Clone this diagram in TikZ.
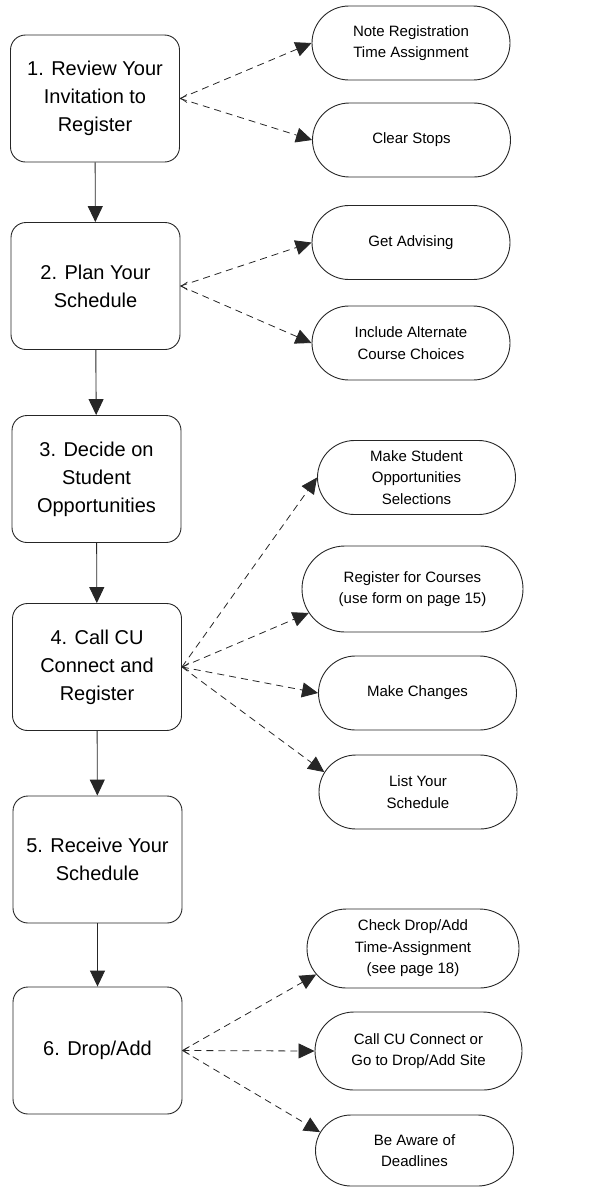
\documentclass[tikz,border=0pt]{standalone}
\usepackage{fontspec}
\setmainfont{Liberation Sans}
\usetikzlibrary{shapes.misc,arrows.meta}
\begin{document}
\begin{tikzpicture}[x=1pt,y=-1pt,
  stepbox/.style={draw=black!85, line width=0.9pt, rectangle, rounded corners=15pt,
    minimum width=169pt, minimum height=127pt, inner sep=0pt, align=center,
    font=\fontsize{20}{28}\selectfont},
  pill/.style={draw=black!85, line width=0.9pt, rounded rectangle, inner sep=0pt,
    minimum width=198pt, minimum height=74pt, align=center,
    font=\fontsize{15}{21.5}\selectfont},
  flow/.style={draw=black!85, line width=0.9pt, -{Triangle[length=16pt,width=15pt]}},
  sub/.style={draw=black!85, line width=0.8pt, dash pattern=on 7pt off 5pt,
    -{Triangle[length=16pt,width=15pt]}},
  tailbarb/.style={draw=black!85, line width=0.7pt}
]
\useasboundingbox (0,0) rectangle (591,1187);
% main steps
\node[stepbox] (b1) at (95,98.5) {1. Review Your\\Invitation to\\Register};
\node[stepbox] (b2) at (95.5,286) {2. Plan Your\\Schedule};
\node[stepbox] (b3) at (96.5,479) {3. Decide on\\Student\\Opportunities};
\node[stepbox] (b4) at (97,667) {4. Call CU\\Connect and\\Register};
\node[stepbox] (b5) at (97.5,859.5) {5. Receive Your\\Schedule};
\node[stepbox] (b6) at (97.5,1050.5) {6. Drop/Add};
% side tasks
\node[pill] (r1) at (411,43) {Note Registration\\Time Assignment};
\node[pill] (r2) at (411.5,140) {Clear Stops};
\node[pill] (r3) at (411,242.5) {Get Advising};
\node[pill] (r4) at (411,343) {Include Alternate\\Course Choices};
\node[pill] (r5) at (416.5,477.5) {Make Student\\Opportunities\\Selections};
\node[pill, minimum width=221pt, minimum height=86pt] (r6) at (412.5,589) {Register for Courses\\(use form on page 15)};
\node[pill] (r7) at (417.5,693) {Make Changes};
\node[pill] (r8) at (418,792) {List Your\\Schedule};
\node[pill, minimum width=212pt, minimum height=79pt] (r9) at (413,948.5) {Check Drop/Add\\Time-Assignment\\(see page 18)};
\node[pill, minimum width=207pt, minimum height=78pt] (r10) at (418.5,1051) {Call CU Connect or\\Go to Drop/Add Site};
\node[pill, minimum height=71pt] (r11) at (414.5,1150.5) {Be Aware of\\Deadlines};
% main flow
\draw[flow] (b1) -- (b2);
\draw[flow] (b2) -- (b3);
\draw[flow] (b3) -- (b4);
\draw[flow] (b4) -- (b5);
\draw[flow] (b5) -- (b6);
% side arrows
\draw[sub] (b1.east) -- (r1.west);
\draw[sub] (b1.east) -- (r2.west);
\draw[sub] (b2.east) -- (r3.west);
\draw[sub] (b2.east) -- (r4.west);
\draw[sub] (b4.east) -- (r5.west);
\draw[sub] (b4.east) -- (r6.193);
\draw[sub] (b4.east) -- (r7.west);
\draw[sub] (b4.east) -- (r8.168);
\draw[sub] (b6.east) -- (r9.195);
\draw[sub] (b6.east) -- (r10.west);
\draw[sub] (b6.east) -- (r11.169);
% small open tips at the sources
\foreach \b in {b1,b2,b4,b6}
  \draw[tailbarb] ([xshift=7pt,yshift=-4pt]\b.east) -- ([xshift=1pt]\b.east) -- ([xshift=7pt,yshift=4pt]\b.east);
\end{tikzpicture}
\end{document}
